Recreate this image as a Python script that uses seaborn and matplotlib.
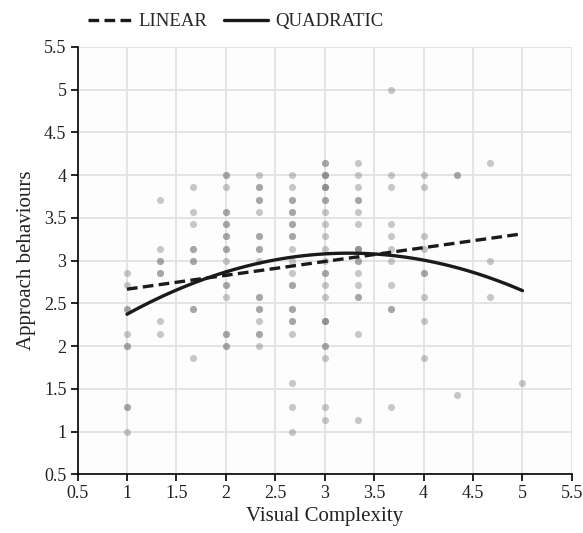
import numpy as np
import pandas as pd
import matplotlib
matplotlib.use("Agg")
import matplotlib.pyplot as plt
import seaborn as sns

# complexity levels (thirds) and the approach scores observed at each level
# (repeated values = overlapping participants, they show up darker)
levels = [1, 4/3, 5/3, 2, 7/3, 8/3, 3, 10/3, 11/3, 4, 13/3, 14/3, 5]
scores = [
    [2.86, 2.71, 2.43, 2.43, 2.14, 2.0, 2.0, 1.29, 1.29, 1.0],
    [3.71, 3.14, 3.0, 3.0, 2.86, 2.86, 2.29, 2.14],
    [3.86, 3.57, 3.43, 3.14, 3.14, 3.0, 3.0, 2.43, 2.43, 1.86],
    [4.0, 4.0, 3.86, 3.57, 3.57, 3.43, 3.43, 3.29, 3.29, 3.14, 3.14, 3.0,
     2.86, 2.86, 2.71, 2.71, 2.57, 2.14, 2.14, 2.0, 2.0],
    [4.0, 3.86, 3.86, 3.71, 3.71, 3.57, 3.29, 3.29, 3.14, 3.14, 3.0,
     2.57, 2.57, 2.43, 2.43, 2.29, 2.14, 2.14, 2.0],
    [4.0, 3.86, 3.71, 3.71, 3.57, 3.57, 3.43, 3.43, 3.29, 3.29, 3.14, 3.0,
     2.86, 2.71, 2.71, 2.43, 2.43, 2.29, 2.29, 2.14, 1.57, 1.29, 1.0],
    [4.14, 4.14, 4.0, 4.0, 4.0, 3.86, 3.86, 3.86, 3.71, 3.71, 3.57, 3.43,
     3.29, 3.14, 3.0, 2.86, 2.86, 2.71, 2.57, 2.29, 2.29, 2.29, 2.0, 2.0,
     1.86, 1.29, 1.14],
    [4.14, 4.0, 3.86, 3.71, 3.71, 3.57, 3.43, 3.14, 3.14, 3.14, 3.0, 3.0,
     2.86, 2.71, 2.57, 2.57, 2.14, 1.14],
    [5.0, 4.0, 3.86, 3.43, 3.29, 3.14, 3.0, 2.71, 2.43, 2.43, 1.29],
    [4.0, 3.86, 3.29, 3.14, 2.86, 2.86, 2.57, 2.29, 1.86],
    [4.0, 4.0, 1.43],
    [4.14, 3.0, 2.57],
    [1.57],
]

# fitted curves
linear_coef = [2.504, 0.162]              # a + b*x
quadratic_coef = [1.594, 0.921, -0.142]   # a + b*x + c*x^2

df = pd.DataFrame(
    [(lv, s) for lv, col in zip(levels, scores) for s in col],
    columns=["complexity", "approach"],
)

sns.set_theme(style="whitegrid")
plt.rcParams["font.family"] = ["Liberation Serif", "DejaVu Serif"]

fig = plt.figure(figsize=(5.83, 5.33), dpi=100)
ax = fig.add_axes([0.133, 0.110, 0.848, 0.802])

sns.scatterplot(data=df, x="complexity", y="approach", ax=ax,
                color="#767676", alpha=0.4, s=26, linewidth=0, zorder=2)

xs = np.linspace(1, 5, 100)
lin = linear_coef[0] + linear_coef[1] * xs
quad = quadratic_coef[0] + quadratic_coef[1] * xs + quadratic_coef[2] * xs ** 2
sns.lineplot(x=xs, y=lin, ax=ax, color="#1a1a1a", lw=2.4,
             linestyle=(0, (3.2, 1.6)), label="LINEAR", zorder=3)
sns.lineplot(x=xs, y=quad, ax=ax, color="#1a1a1a", lw=2.4,
             label="QUADRATIC", zorder=3)

ax.set_xlim(0.5, 5.5)
ax.set_ylim(0.5, 5.5)
ticks = np.arange(0.5, 5.51, 0.5)
ax.set_xticks(ticks)
ax.set_yticks(ticks)
ax.set_xticklabels([f"{t:g}" for t in ticks])
ax.set_yticklabels([f"{t:g}" for t in ticks])

ax.set_facecolor("#fdfdfd")
ax.grid(True, color="#e2e2e2", linewidth=1.3)
for side in ["top", "right"]:
    ax.spines[side].set_visible(False)
for side in ["left", "bottom"]:
    ax.spines[side].set_color("black")
    ax.spines[side].set_linewidth(1.2)
ax.tick_params(axis="both", direction="out", length=5, width=1.2,
               color="black", labelsize=13, labelcolor="#222222", pad=3,
               left=True, bottom=True)

ax.set_xlabel("Visual Complexity", fontsize=15, color="#222222", labelpad=3)
ax.set_ylabel("Approach behaviours", fontsize=15, color="#222222", labelpad=6)

ax.legend(loc="center left", bbox_to_anchor=(0.151, 0.959),
          bbox_transform=fig.transFigure, ncol=2, frameon=False,
          fontsize=13.5, handlelength=2.35, columnspacing=0.9,
          handletextpad=0.35, borderpad=0, borderaxespad=0)

fig.savefig("out.png", dpi=100)
